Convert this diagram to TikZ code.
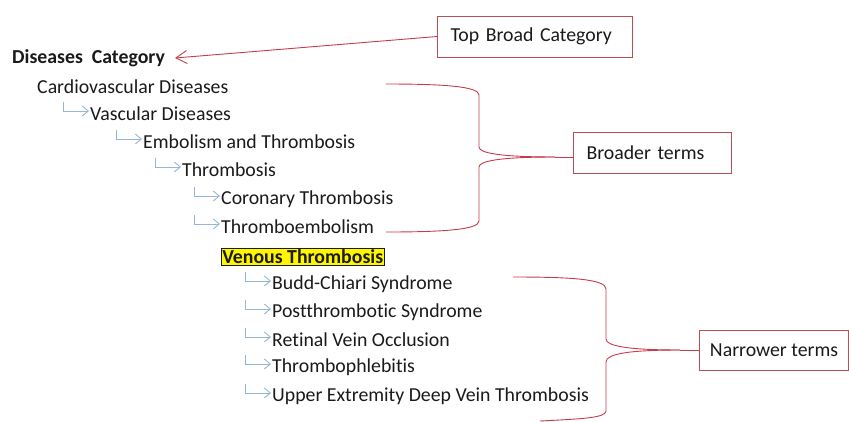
\documentclass[tikz,border=0pt]{standalone}
\usepackage{fontspec}
\setmainfont[Ligatures={NoCommon,NoRequired,NoContextual}]{Carlito}
\usetikzlibrary{arrows.meta}

\definecolor{linkred}{RGB}{198,60,76}
\definecolor{boxred}{RGB}{186,78,84}
\definecolor{elbowblue}{RGB}{150,182,214}
\definecolor{termgray}{RGB}{26,26,26}
\definecolor{hiyellow}{RGB}{255,246,0}

\tikzset{
	term/.style={anchor=west, inner sep=0pt, text=termgray, font=\fontsize{19.8}{23}\selectfont},
	labelbox/.style={draw=boxred, line width=1pt, anchor=west, inner xsep=13pt, align=left, text=termgray, font=\fontsize{19.8}{23}\selectfont},
	link/.style={draw=linkred, line width=0.9pt},
	elbow/.style={draw=elbowblue, line width=0.9pt, -{Straight Barb[length=6pt, width=10pt]}}
}

\begin{document}
\begin{tikzpicture}[x=1pt, y=-1pt]
	\useasboundingbox (0,0) rectangle (849,421);

	% tree of terms
	\node[term, font=\fontsize{19.8}{23}\selectfont\bfseries] (dc) at (12,58) {Diseases\ \ Category};
	\node[term] (cvd) at (37,87) {Cardiovascular Diseases};
	\node[term] (vd) at (90,114) {Vascular Diseases};
	\node[term] (et) at (143,142) {Embolism and Thrombosis};
	\node[term] (th) at (182,170) {Thrombosis};
	\node[term] (ct) at (221,199) {Coronary Thrombosis};
	\node[term] (te) at (221,227) {Thromboembolism};
	\node[term, font=\fontsize{19.8}{23}\selectfont\bfseries, fill=hiyellow, draw=termgray, line width=0.6pt, inner xsep=1pt, inner ysep=1.5pt] (vt) at (221,257) {Venous Thrombosis};
	\node[term] (bcs) at (272,284) {Budd-Chiari Syndrome};
	\node[term] (ps) at (272,312) {Postthrombotic Syndrome};
	\node[term] (rvo) at (272,340) {Retinal Vein Occlusion};
	\node[term] (tp) at (272,367) {Thrombophlebitis};
	\node[term] (ue) at (272,396) {Upper Extremity Deep Vein Thrombosis};

	% little elbow arrows
	\foreach \n in {vd,et,th,ct,te,bcs,ps,rvo,tp,ue}
		\draw[elbow] ([xshift=-27pt, yshift=12pt]\n.west) |- ([xshift=-1pt, yshift=3pt]\n.west);

	% label boxes
	\node[labelbox, text width=169pt, minimum height=41pt] (tbc) at (437,36.5) {Top Broad Category};
	\node[labelbox, text width=132pt, minimum height=41pt] (bt) at (573,152.5) {Broader terms};
	\node[labelbox, inner xsep=0pt, minimum width=149pt, minimum height=40pt] (nt) at (699,350) {Narrower terms};

	% pointer to the top category
	\draw[link, -{Straight Barb[length=11pt, width=13pt]}] (tbc.west) -- ([xshift=10pt]dc.east);

	% broader brace
	\coordinate (btop) at (386,84);
	\coordinate (bbot) at (386,232);
	\coordinate (bmid) at (555,157);
	\draw[link] (btop) .. controls (440,84) and (479,86) .. (479,95) -- (479,147) .. controls (479,153) and (500,157) .. (bmid);
	\draw[link] (bbot) .. controls (440,232) and (479,230) .. (479,221) -- (479,167) .. controls (479,161) and (500,157) .. (bmid);
	\draw[link] (bmid) -- (bt.west |- bmid);

	% narrower brace
	\coordinate (ntop) at (513,277);
	\coordinate (nbot) at (540,421);
	\coordinate (nmid) at (680,350);
	\draw[link] (ntop) .. controls (570,277) and (606,279) .. (606,289) -- (606,339) .. controls (606,346) and (628,350) .. (nmid);
	\draw[link] (nbot) .. controls (580,419) and (606,418) .. (606,411) -- (606,362) .. controls (606,354) and (628,350) .. (nmid);
	\draw[link] (nmid) -- (nt.west);
\end{tikzpicture}
\end{document}
